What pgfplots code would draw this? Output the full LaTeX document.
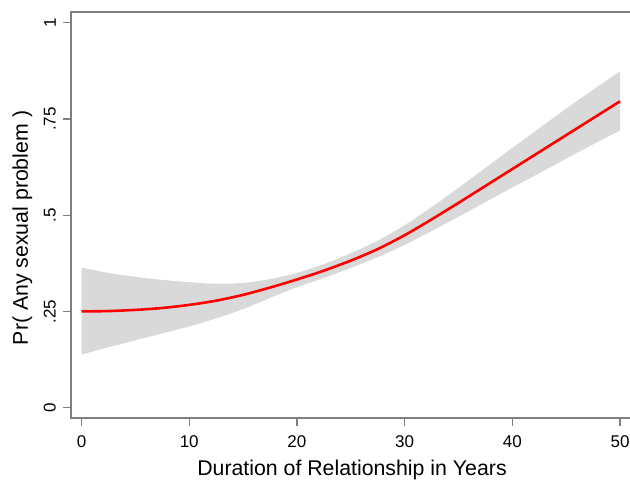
\documentclass[border=0pt]{standalone}
\usepackage{fontspec}
\setmainfont{Liberation Sans}
\usepackage{pgfplots}
\usepackage{pgfplotstable}
\pgfplotsset{compat=1.18}
\usepgfplotslibrary{fillbetween}
\usetikzlibrary{calc}
\definecolor{axgray}{HTML}{7F7F7F}
\definecolor{band}{HTML}{D9D9D9}
\pgfplotstableread{
x y lo hi
0 0.250 0.138 0.364
2.5 0.251 0.157 0.350
5 0.254 0.175 0.340
7.5 0.259 0.193 0.332
10 0.267 0.211 0.326
12.5 0.278 0.232 0.322
15 0.293 0.256 0.324
17.5 0.312 0.285 0.334
20 0.333 0.313 0.350
22.5 0.356 0.337 0.373
25 0.382 0.363 0.401
27.5 0.412 0.391 0.434
30 0.448 0.423 0.474
32.5 0.489 0.459 0.521
35 0.532 0.496 0.571
37.5 0.576 0.534 0.623
40 0.620 0.572 0.675
42.5 0.664 0.609 0.726
45 0.708 0.647 0.777
47.5 0.752 0.684 0.826
50 0.796 0.720 0.874
}\data
\begin{document}
\begin{tikzpicture}
\begin{axis}[name=ax, scale only axis, width=562bp, height=406bp,
  xmin=-0.975, xmax=51.2, ymin=-0.0268, ymax=1.0278,
  axis line style={draw=axgray, line width=1.2bp},
  xtick={0,10,20,30,40,50}, xticklabels={0,10,20,30,40,50},
  ytick={0,0.25,0.5,0.75,1}, yticklabels={0,.25,.5,.75,1},
  xtick pos=bottom, ytick pos=left, tick align=outside, major tick length=8bp,
  tick style={draw=axgray, line width=1.2bp},
  xticklabel style={font=\fontsize{17bp}{20bp}\selectfont, inner sep=0pt, anchor=north, yshift=-9bp},
  yticklabel style={font=\fontsize{17bp}{20bp}\selectfont, inner sep=0pt, xshift=-7bp, rotate=90, anchor=south},
  xlabel={Duration of Relationship in Years}, ylabel={Pr( Any sexual problem )},
  every axis x label/.style={at={(axis description cs:0.5,0)}, anchor=base, yshift=-57bp, inner sep=0pt, font=\fontsize{21.3bp}{25bp}\selectfont},
  every axis y label/.style={at={(axis description cs:0,0.468)}, xshift=-43bp, rotate=90, anchor=base, inner sep=0pt, font=\fontsize{21.3bp}{25bp}\selectfont},
]
\addplot[draw=none, name path=U, smooth] table[x=x, y=hi]{\data};
\addplot[draw=none, name path=L, smooth] table[x=x, y=lo]{\data};
\addplot[band, draw=none] fill between[of=U and L];
\addplot[red, line width=2.6bp, smooth] table[x=x, y=y]{\data};
\end{axis}
\pgfresetboundingbox
\path[use as bounding box] ($(ax.south west)+(-71bp,-65bp)$) rectangle ++(630bp,483bp);
\end{tikzpicture}
\end{document}
